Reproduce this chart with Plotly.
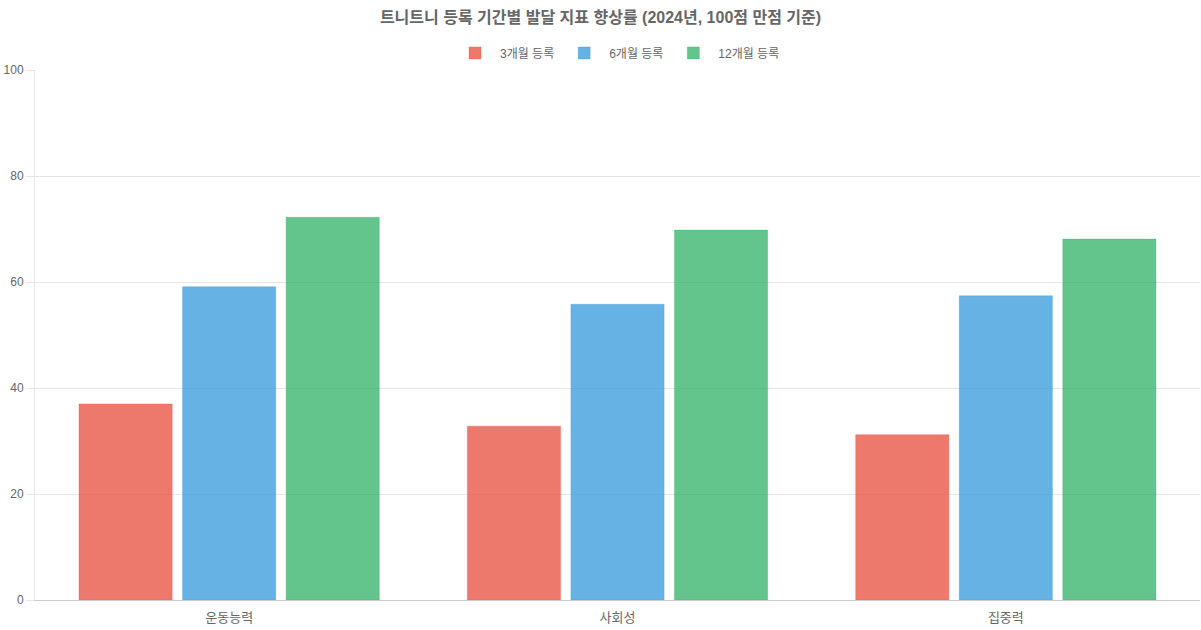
import plotly.graph_objects as go

categories = ["운동능력", "사회성", "집중력"]
series_names = ["3개월 등록", "6개월 등록", "12개월 등록"]
vals_3m = [37.0, 32.8, 31.2]
vals_6m = [59.1, 55.8, 57.4]
vals_12m = [72.2, 69.8, 68.1]
fill_colors = ["rgba(231,76,60,0.75)", "rgba(52,152,219,0.75)", "rgba(39,174,96,0.72)"]
line_colors = ["rgba(231,76,60,0.3)", "rgba(52,152,219,0.3)", "rgba(39,174,96,0.3)"]
y_ticks = [0, 20, 40, 60, 80, 100]

FONT = "Arial, 'Liberation Sans', 'Noto Sans CJK KR', sans-serif"

fig = go.Figure()
for name, vals, fc, lc in zip(series_names, [vals_3m, vals_6m, vals_12m], fill_colors, line_colors):
    fig.add_trace(go.Bar(
        x=categories, y=vals, name=name,
        marker=dict(color=fc, line=dict(color=lc, width=1)),
    ))

fig.update_layout(
    width=1201, height=630,
    margin=dict(l=35, r=1, t=70, b=30, autoexpand=False),
    paper_bgcolor="white", plot_bgcolor="white",
    barmode="group", bargap=0.2, bargroupgap=0.1,
    font=dict(family=FONT, size=12, color="#666666"),
    title=dict(
        text="<b>트니트니 등록 기간별 발달 지표 향상률 (2024년, 100점 만점 기준)</b>",
        x=0.5, xanchor="center", y=0.973, yanchor="middle",
        font=dict(family=FONT, size=16, color="#666666"),
    ),
    legend=dict(
        orientation="h", x=0.5, xanchor="center",
        yref="container", y=0.916, yanchor="middle",
        font=dict(family=FONT, size=12, color="#666666"),
        itemwidth=40, traceorder="normal",
    ),
    showlegend=True,
)
fig.update_yaxes(
    range=[0, 100], tickvals=y_ticks, ticktext=[str(v) for v in y_ticks],
    showgrid=True, gridcolor="#e6e6e6", gridwidth=1,
    showline=True, linecolor="#e6e6e6", linewidth=1,
    ticks="outside", ticklen=8, tickcolor="#e6e6e6",
    zeroline=False, tickfont=dict(size=12, color="#666666"),
    automargin=False,
)
fig.update_xaxes(
    showgrid=False, showline=True, linecolor="#cccccc", linewidth=1,
    ticks="outside", ticklen=5, tickcolor="rgba(0,0,0,0)",
    tickfont=dict(size=13, color="#666666"),
    automargin=False,
)

fig.write_html(
    "out.html",
    config={"displayModeBar": False},
    post_script="document.body.style.margin='0';document.body.style.overflow='hidden';",
)
